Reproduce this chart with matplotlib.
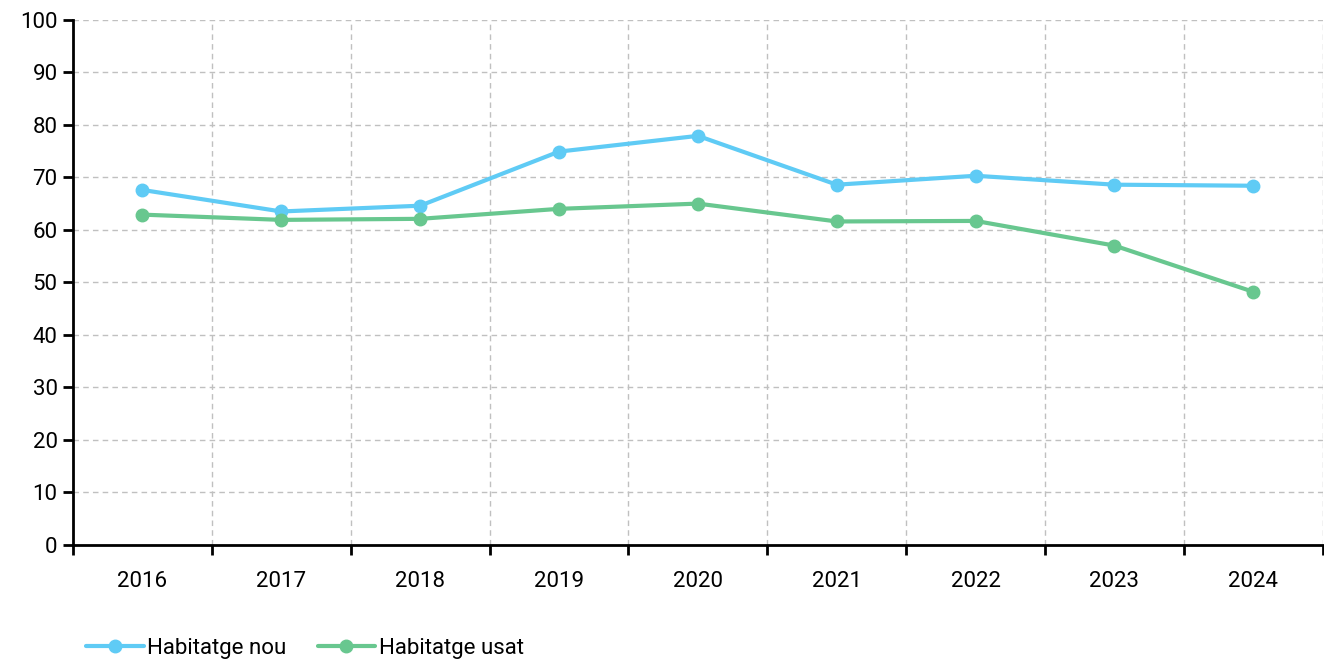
import numpy as np
import matplotlib.pyplot as plt
from matplotlib.ticker import FixedLocator

years = ["2016", "2017", "2018", "2019", "2020", "2021", "2022", "2023", "2024"]
habitatge_nou = [67.6, 63.5, 64.6, 74.9, 77.9, 68.6, 70.3, 68.6, 68.4]
habitatge_usat = [62.9, 61.9, 62.1, 64.0, 65.0, 61.6, 61.7, 57.0, 48.2]

plt.rcParams['font.family'] = ['Roboto', 'DejaVu Sans']

fig = plt.figure(figsize=(13.24, 6.59), dpi=100)
ax = fig.add_axes([0.0551, 0.173, 0.944, 0.797])

x = np.arange(len(years))
ax.plot(x, habitatge_nou, color="#5fcbf5", lw=3, marker="o", ms=9,
        label="Habitatge nou", solid_capstyle="round")
ax.plot(x, habitatge_usat, color="#68c78f", lw=3, marker="o", ms=9,
        label="Habitatge usat", solid_capstyle="round")

ax.set_xlim(-0.5, len(years) - 0.5)
ax.set_ylim(0, 100)
ax.set_yticks(range(0, 101, 10))
ax.set_xticks(x)
ax.set_xticklabels(years)
ax.xaxis.set_minor_locator(FixedLocator(np.arange(-0.5, len(years), 1.0)))
ax.tick_params(axis="x", which="major", length=0, pad=19, labelsize=16)
ax.tick_params(axis="x", which="minor", length=7, width=2, direction="out")
ax.tick_params(axis="y", length=7, width=2, labelsize=16, pad=4)

ax.grid(axis="y", which="major", color="#c0c0c0", ls=(0, (4, 3)), lw=1)
ax.grid(axis="x", which="minor", color="#c0c0c0", ls=(0, (4, 3)), lw=1)
ax.set_axisbelow(True)

for s in ["top", "right"]:
    ax.spines[s].set_visible(False)
ax.spines["left"].set_linewidth(2)
ax.spines["bottom"].set_linewidth(2)

ax.legend(loc="center left", bbox_to_anchor=(0.065, 0.016), bbox_transform=fig.transFigure,
          ncol=2, frameon=False, fontsize=16, handlelength=2.6, columnspacing=1.4,
          handletextpad=0.15, borderaxespad=0.0, borderpad=0.0)

fig.savefig("out.png", dpi=100)
